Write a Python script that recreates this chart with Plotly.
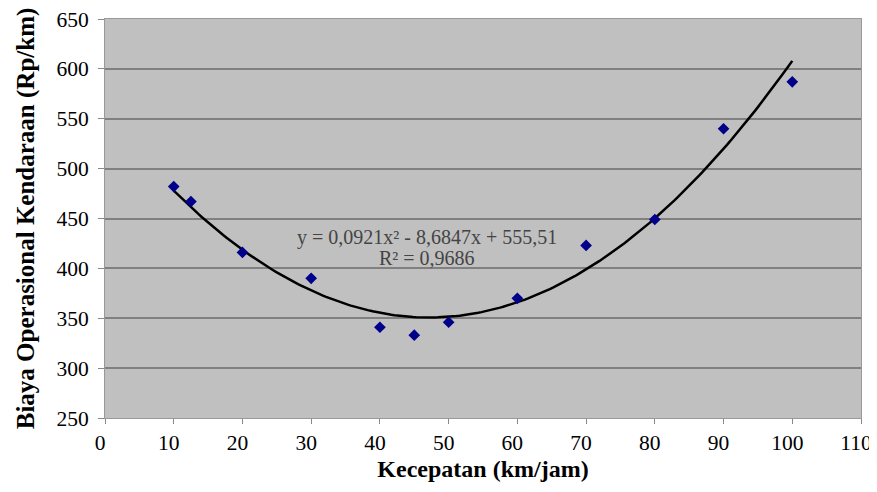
import numpy as np
import plotly.graph_objects as go

speed = [10, 12.5, 20, 30, 40, 45, 50, 60, 70, 80, 90, 100]
cost = [482, 467, 416, 390, 341, 333, 346, 370, 423, 449, 540, 587]
trend_coef = [0.0921, -8.6847, 555.51]
x_ticks = list(range(0, 111, 10))
y_ticks = list(range(250, 651, 50))

xs = np.linspace(10, 100, 200)
ys = np.polyval(trend_coef, xs)

fig = go.Figure()
fig.add_trace(go.Scatter(x=xs, y=ys, mode="lines",
                         line=dict(color="black", width=2.5), hoverinfo="skip"))
fig.add_trace(go.Scatter(x=speed, y=cost, mode="markers",
                         marker=dict(symbol="diamond", color="#00008B", size=9)))

ann_font = dict(family="Liberation Serif", size=20, color="#444444")
fig.add_annotation(x=46.8, y=431, text="y = 0,0921x² - 8,6847x + 555,51", showarrow=False, font=ann_font)
fig.add_annotation(x=46.8, y=410, text="R² = 0,9686", showarrow=False, font=ann_font)

tick_font = dict(family="Liberation Serif", size=21.5, color="black")
title_font = dict(family="Liberation Serif", size=24, color="black")

# page body has an 8px margin: compensate so the plot area sits where the reference has it
fig.update_layout(
    width=869, height=484,
    margin=dict(l=97, r=16, t=11, b=74),
    paper_bgcolor="white", plot_bgcolor="#c0c0c0",
    showlegend=False,
    font=dict(family="Liberation Serif", size=20, color="black"),
)
fig.update_xaxes(range=[0, 110], tickvals=x_ticks, showgrid=False, zeroline=False,
                 automargin=False, tickfont=tick_font, ticklabeloverflow="allow",
                 ticklabelshift=-5,
                 ticks="outside", ticklen=5, tickcolor="#888888",
                 showline=True, linecolor="#999999", linewidth=1, mirror=True,
                 title=dict(text="<b>Kecepatan (km/jam)</b>", font=title_font, standoff=6))
fig.update_yaxes(range=[250, 650], tickvals=y_ticks, showgrid=True, gridcolor="#808080",
                 gridwidth=2, zeroline=False,
                 automargin=False, tickfont=tick_font, ticklabeloverflow="allow",
                 ticklabelstandoff=5,
                 ticks="outside", ticklen=6, tickcolor="#888888",
                 showline=True, linecolor="#999999", linewidth=1, mirror=True,
                 title=dict(text="<b>Biaya Operasional Kendaraan (Rp/km)</b>",
                            font=dict(family="Liberation Serif", size=25, color="black"), standoff=14))

fig.write_html("out.html")
